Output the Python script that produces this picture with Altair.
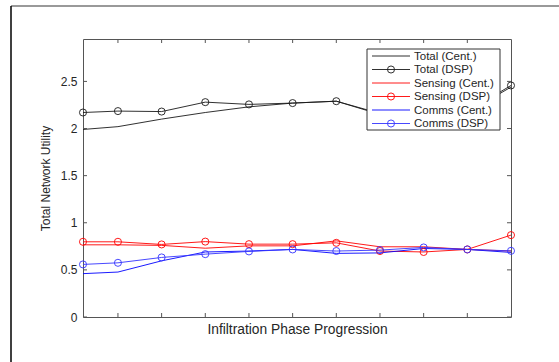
import altair as alt
import pandas as pd

# ---- data ----
x_pos = [0.2, 1, 2, 3, 4, 5, 6, 7, 8, 9, 10]
total_cent = [1.99, 2.02, 2.10, 2.17, 2.23, 2.27, 2.29, 2.15, 2.14, 2.17, 2.44]
total_dsp = [2.17, 2.185, 2.18, 2.28, 2.256, 2.27, 2.29, 2.16, 2.15, 2.18, 2.457]
sensing_cent = [0.766, 0.766, 0.76, 0.73, 0.755, 0.755, 0.808, 0.745, 0.745, 0.717, 0.70]
sensing_dsp = [0.798, 0.798, 0.77, 0.80, 0.773, 0.773, 0.787, 0.70, 0.69, 0.717, 0.869]
comms_cent = [0.46, 0.477, 0.596, 0.69, 0.70, 0.717, 0.675, 0.68, 0.727, 0.717, 0.685]
comms_dsp = [0.558, 0.575, 0.632, 0.667, 0.696, 0.717, 0.70, 0.71, 0.738, 0.717, 0.702]

series_names = ["Total (Cent.)", "Total (DSP)", "Sensing (Cent.)",
                "Sensing (DSP)", "Comms (Cent.)", "Comms (DSP)"]
series_colors = ["#1a1a1a", "#1a1a1a", "#ff0000", "#ff0000", "#0000ff", "#3333ff"]
series_values = [total_cent, total_dsp, sensing_cent, sensing_dsp, comms_cent, comms_dsp]

y_ticks = [0, 0.5, 1, 1.5, 2, 2.5]
x_ticks = [1, 2, 3, 4, 5, 6, 7, 8, 9]

rows = []
for name, vals in zip(series_names, series_values):
    for xv, yv in zip(x_pos, vals):
        rows.append({"series": name, "x": xv, "v": yv})
df = pd.DataFrame(rows)
df_dsp = df[df["series"].str.contains("DSP")]

W, H = 428, 278
xs = alt.Scale(domain=[0.2, 10], nice=False, zero=False)
ys = alt.Scale(domain=[0, 2.95], nice=False, zero=False)
cs = alt.Scale(domain=series_names, range=series_colors)

FONT = "Liberation Sans"
TXT = "#262626"

x_axis = alt.Axis(
    title="Infiltration Phase Progression", labels=False, ticks=False, domain=False,
    grid=False, titleFont=FONT, titleFontSize=13.8, titleFontWeight="normal",
    titleColor=TXT, titlePadding=5)
y_axis = alt.Axis(
    title="Total Network Utility", values=y_ticks, ticks=False, domain=False,
    grid=False, labelFont=FONT, labelFontSize=12, labelColor=TXT, labelPadding=6,
    titleFont=FONT, titleFontSize=12, titleFontWeight="normal", titleColor=TXT,
    titlePadding=8, labelExpr="format(datum.value, '~g')")


def X():
    return alt.X("x:Q", scale=xs, axis=x_axis, title="Infiltration Phase Progression")


def Y():
    return alt.Y("v:Q", scale=ys, axis=y_axis, title="Total Network Utility")


MS = 50
lines = alt.Chart(df).mark_line(strokeWidth=0.9).encode(
    x=X(), y=Y(),
    color=alt.Color("series:N", scale=cs, legend=None),
    detail="series:N")

points = alt.Chart(df_dsp).mark_point(shape="circle", filled=False, size=MS,
                                      strokeWidth=0.9, opacity=1).encode(
    x=X(), y=Y(),
    color=alt.Color("series:N", scale=cs, legend=None))

# inward ticks (MATLAB style)
yt = pd.DataFrame({"v": y_ticks})
xt = pd.DataFrame({"x": x_ticks})
TL = 4
tick_col = "#555555"
left_ticks = alt.Chart(yt).mark_rule(color=tick_col, strokeWidth=1).encode(
    y=Y(), x=alt.value(0), x2=alt.value(TL))
right_ticks = alt.Chart(yt).mark_rule(color=tick_col, strokeWidth=1).encode(
    y=Y(), x=alt.value(W - TL), x2=alt.value(W))
bottom_ticks = alt.Chart(xt).mark_rule(color=tick_col, strokeWidth=1).encode(
    x=X(), y=alt.value(H - TL), y2=alt.value(H))
top_ticks = alt.Chart(xt).mark_rule(color=tick_col, strokeWidth=1).encode(
    x=X(), y=alt.value(0), y2=alt.value(TL))

# manual legend
one = pd.DataFrame({"k": [0]})
leg_x0, leg_x1, leg_y0, leg_y1 = 284, 417, 10, 91
legend_layers = [
    alt.Chart(one).mark_rect(fill="white", stroke="#333333", strokeWidth=1).encode(
        x=alt.value(leg_x0), x2=alt.value(leg_x1), y=alt.value(leg_y0), y2=alt.value(leg_y1))
]
row_y0, row_dy = 17, 13.5
for i, (name, col) in enumerate(zip(series_names, series_colors)):
    yy = row_y0 + i * row_dy
    ldf = pd.DataFrame({"label": [name]})
    legend_layers.append(alt.Chart(ldf).mark_rule(color=col, strokeWidth=0.9).encode(
        x=alt.value(289), x2=alt.value(327), y=alt.value(yy)))
    if "DSP" in name:
        legend_layers.append(alt.Chart(ldf).mark_point(
            shape="circle", filled=False, size=MS, color=col, strokeWidth=0.9, opacity=1).encode(
            x=alt.value(308), y=alt.value(yy)))
    legend_layers.append(alt.Chart(ldf).mark_text(
        align="left", baseline="middle", font=FONT, fontSize=11.5, color=TXT).encode(
        x=alt.value(331), y=alt.value(yy + 0.5), text="label:N"))

# screenshot frame lines
frame_top = alt.Chart(one).mark_rule(color="#777777", strokeWidth=1.5).encode(
    x=alt.value(-72), x2=alt.value(480), y=alt.value(-33))
frame_left = alt.Chart(one).mark_rule(color="#000000", strokeWidth=1.5).encode(
    x=alt.value(-72), y=alt.value(-33), y2=alt.value(330))

chart = alt.layer(
    lines, points, left_ticks, right_ticks, bottom_ticks, top_ticks,
    *legend_layers, frame_top, frame_left
).properties(
    width=W, height=H,
    autosize=alt.AutoSizeParams(type="none"),
    padding={"left": 83, "top": 39, "right": 48, "bottom": 45},
    background="white",
).configure_view(stroke="#555555", strokeWidth=1)

chart.save("out.html", embed_options={"renderer": "svg", "actions": False})
